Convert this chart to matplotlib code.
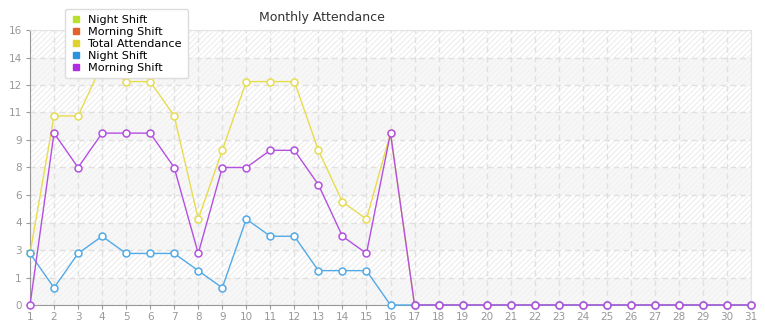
import numpy as np
import matplotlib
matplotlib.use("Agg")
import matplotlib.pyplot as plt
from matplotlib.lines import Line2D
from matplotlib.ticker import FuncFormatter, MultipleLocator

days = list(range(1, 32))
night_shift = [3, 1, 3, 4, 3, 3, 3, 2, 1, 5, 4, 4, 2, 2, 2, 0] + [0] * 15
morning_shift = [0, 10, 8, 10, 10, 10, 8, 3, 8, 8, 9, 9, 7, 4, 3, 10] + [0] * 15
total_attendance = [n + m for n, m in zip(night_shift, morning_shift)]

legend_labels = ["Night Shift", "Morning Shift", "Total Attendance", "Night Shift", "Morning Shift"]
legend_colors = ["#b8e02c", "#e0622c", "#e0d22c", "#2c92e0", "#b02ce0"]
title = "Monthly Attendance"

plt.rcParams['font.family'] = ['DejaVu Sans']
plt.rcParams['hatch.linewidth'] = 0.7

W, H = 765, 320
fig = plt.figure(figsize=(W / 100, H / 100), dpi=100)
fig.patch.set_facecolor('white')
L, R, T, B = 30, 751, 30, 305
ax = fig.add_axes([L / W, 1 - B / H, (R - L) / W, (B - T) / H])
ax.set_xlim(1, 31)
ax.set_ylim(0, 16)
ax.set_facecolor('white')

# banded hatched background
step = 1.6
for i in range(10):
    y0 = i * step
    if i % 2 == 1:
        ax.axhspan(y0, y0 + step, facecolor='#ffffff', edgecolor='#ebebeb', hatch='//////',
                   linewidth=0, zorder=0)
    else:
        ax.axhspan(y0, y0 + step, facecolor='#f7f7f7', edgecolor='#f1f1f1', hatch='//////',
                   linewidth=0, zorder=0)

ax.yaxis.set_major_locator(MultipleLocator(step))
ax.xaxis.set_major_locator(MultipleLocator(1))
ax.yaxis.set_major_formatter(FuncFormatter(lambda v, p: f"{int(np.floor(v + 1e-6))}"))
ax.grid(True, color='#e0e0e0', linestyle=(0, (4, 3)), linewidth=1.0, zorder=1)

ms = 5
ax.plot(days, total_attendance, color='#e8dc50', lw=1.0, marker='o', ms=ms,
        mfc='white', mec='#e8dc50', mew=1.1, zorder=3, clip_on=False)
ax.plot(days, night_shift, color='#52aae6', lw=1.0, marker='o', ms=ms,
        mfc='white', mec='#52aae6', mew=1.1, zorder=4, clip_on=False)
ax.plot(days, morning_shift, color='#b450e0', lw=1.0, marker='o', ms=ms,
        mfc='white', mec='#b450e0', mew=1.1, zorder=5, clip_on=False)

for s in ['top', 'right']:
    ax.spines[s].set_color('#e4e4e4')
for s in ['left', 'bottom']:
    ax.spines[s].set_color('#999999')
ax.tick_params(axis='both', colors='#999999', labelcolor='#999999', labelsize=7.5,
               length=3, width=0.8, pad=2)
ax.tick_params(axis='y', pad=3)

fig.text(322 / W, 1 - 17 / H, title, ha='center', va='center', fontsize=9, color='#333333')

handles = [Line2D([], [], marker='s', color='none', mfc=c, mec=c, ms=4.5) for c in legend_colors]
leg = fig.legend(handles, legend_labels, loc='upper left', bbox_to_anchor=(65 / W, 1 - 9 / H),
                 frameon=True, fancybox=True, shadow=False, fontsize=8.1, handlelength=0.9,
                 handletextpad=0.6, labelspacing=0.18, borderpad=0.5, borderaxespad=0)
leg.get_frame().set_facecolor('white')
leg.get_frame().set_edgecolor('#dcdcdc')
leg.get_frame().set_alpha(1)
leg.set_zorder(10)

fig.savefig('out.png', dpi=100)
